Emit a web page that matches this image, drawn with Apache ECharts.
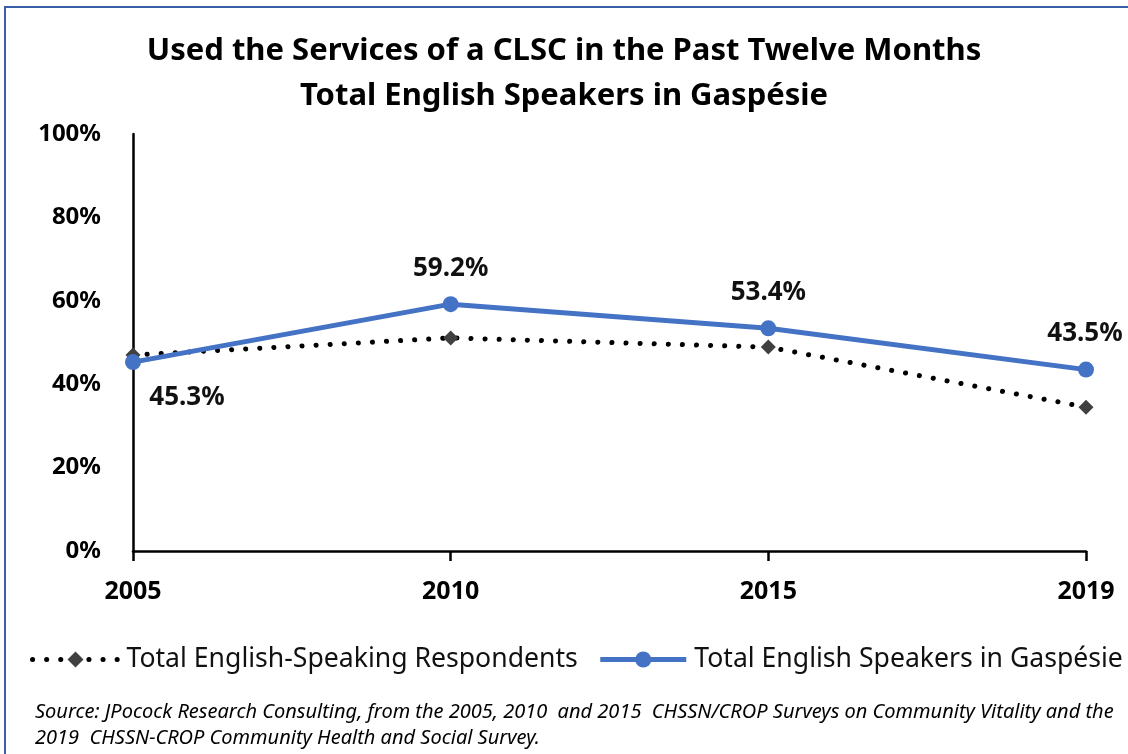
<!DOCTYPE html>
<html>
<head>
<meta charset="utf-8">
<script src="https://cdn.jsdelivr.net/npm/echarts@6/dist/echarts.min.js"></script>
<style>
html,body{margin:0;padding:0;background:#fff;}
#c{width:1128px;height:754px;}
</style>
</head>
<body>
<div id="c"></div>
<script>
const categories = ['2005', '2010', '2015', '2019'];
const respondents = [47.0, 51.1, 48.9, 34.5];
const gaspesie = [45.3, 59.2, 53.4, 43.5];
const yTicks = [0, 20, 40, 60, 80, 100];
const titleLines = ['Used the Services of a CLSC in the Past Twelve Months', 'Total English Speakers in Gaspésie'];
const seriesNames = ['Total English-Speaking Respondents', 'Total English Speakers in Gaspésie'];
const sourceLines = ['Source: JPocock Research Consulting, from the 2005, 2010  and 2015  CHSSN/CROP Surveys on Community Vitality and the', '2019  CHSSN-CROP Community Health and Social Survey.'];

const FONT = 'Noto Sans';
const chart = echarts.init(document.getElementById('c'), null, {renderer: 'canvas'});

const labelPos = [
  {position: 'bottom', offset: [54, 9]},
  {position: 'top', offset: [0, -10]},
  {position: 'top', offset: [0, -10]},
  {position: 'top', offset: [-1, -10]}
];

chart.setOption({
  animation: false,
  backgroundColor: '#fff',
  title: {
    text: titleLines.join('\n'),
    left: 'center',
    top: 24,
    textStyle: {fontFamily: FONT, fontWeight: 'bold', fontSize: 31, color: '#000', lineHeight: 45}
  },
  grid: {left: 133, right: 42, top: 134, bottom: 203, containLabel: false},
  xAxis: {
    type: 'category',
    data: categories,
    boundaryGap: false,
    axisLine: {lineStyle: {color: '#000', width: 2.5}},
    axisTick: {show: true, length: 10, lineStyle: {color: '#000', width: 2.5}},
    axisLabel: {fontFamily: FONT, fontWeight: 'bold', fontSize: 25, color: '#000', margin: 28},
    splitLine: {show: false}
  },
  yAxis: {
    type: 'value',
    min: 0, max: 100, interval: 20,
    axisLine: {show: true, lineStyle: {color: '#000', width: 2.5}},
    axisTick: {show: false},
    splitLine: {show: false},
    axisLabel: {fontFamily: FONT, fontWeight: 'bold', fontSize: 24, color: '#000', margin: 32,
      formatter: function (v) { return yTicks.indexOf(v) >= 0 ? v + '%' : ''; }}
  },
  legend: {
    bottom: 81,
    left: 30,
    width: 1098,
    padding: 0,
    itemWidth: 86,
    itemHeight: 20,
    itemGap: 20,
    lineStyle: {width: 5},
    textStyle: {fontFamily: FONT, fontSize: 26.6, color: '#111', padding: [0, 0, 0, 3]},
    data: seriesNames
  },
  graphic: [
    {type: 'rect', shape: {x: 5, y: 7, width: 1200, height: 800}, style: {fill: 'none', stroke: '#3a5fa8', lineWidth: 2}, silent: true},
    {type: 'text', left: 35, top: 699, style: {text: sourceLines.join('\n'), fontFamily: FONT, fontStyle: 'italic', fontSize: 20, lineHeight: 26, fill: '#000'}}
  ],
  series: [
    {
      name: seriesNames[0],
      type: 'line',
      data: respondents,
      symbol: 'diamond',
      symbolSize: 15,
      itemStyle: {color: '#404040'},
      lineStyle: {color: '#000', width: 5, type: [0.1, 14], cap: 'round'},
      z: 2
    },
    {
      name: seriesNames[1],
      type: 'line',
      data: gaspesie.map((v, i) => ({value: v, label: labelPos[i]})),
      symbol: 'circle',
      symbolSize: 16,
      itemStyle: {color: '#4472C4'},
      lineStyle: {color: '#4472C4', width: 5},
      label: {show: true, fontFamily: FONT, fontWeight: 'bold', fontSize: 26, color: '#111',
        formatter: function (p) { return p.value.toFixed(1) + '%'; }},
      z: 3
    }
  ]
});
</script>
</body>
</html>
